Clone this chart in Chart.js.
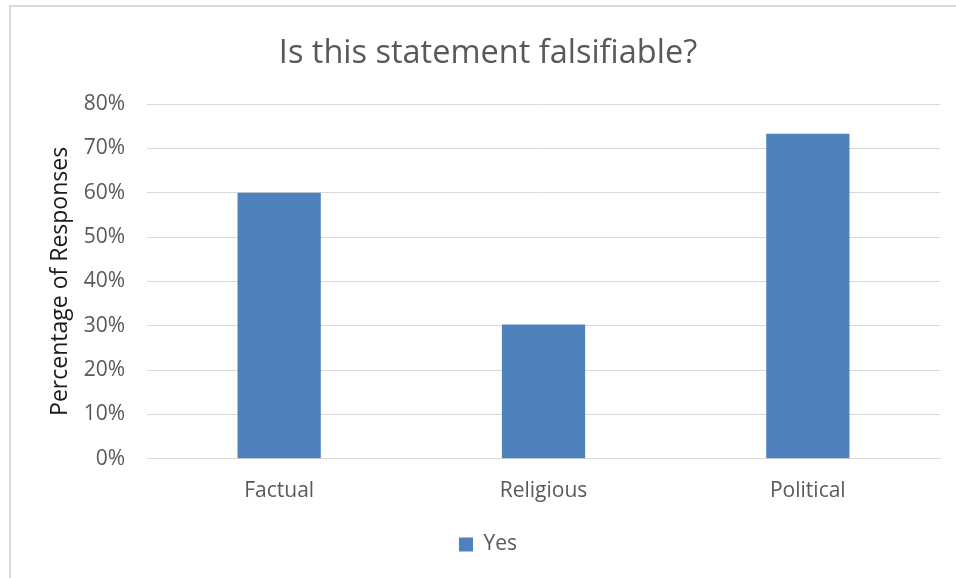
<!DOCTYPE html>
<html>
<head>
<meta charset="utf-8">
<script src="https://cdn.jsdelivr.net/npm/chart.js@4"></script>
<style>
  html, body { margin: 0; padding: 0; background: #fff; overflow: hidden; }
  #wrap { position: relative; width: 956px; height: 578px; }
  #frame { position: absolute; left: 9px; top: 5px; width: 1000px; height: 620px; border: 2px solid #d9d9d9; box-sizing: border-box; }
  #chart { position: absolute; left: 0; top: 0; }
</style>
</head>
<body>
<div id="wrap">
  <div id="frame"></div>
  <canvas id="chart" width="956" height="578"></canvas>
</div>
<script>
const categories = ["Factual", "Religious", "Political"];
const yesValues = [60, 30.3, 73.3];
const seriesName = "Yes";
const chartTitle = "Is this statement falsifiable?";
const yAxisTitle = "Percentage of Responses";

const FONT = "'Open Sans', sans-serif";

new Chart(document.getElementById("chart"), {
  type: "bar",
  data: {
    labels: categories,
    datasets: [
      {
        label: seriesName,
        data: yesValues,
        backgroundColor: "#4f81bd",
        borderWidth: 0,
        categoryPercentage: 1,
        barPercentage: 0.315
      }
    ]
  },
  options: {
    responsive: false,
    devicePixelRatio: 1,
    animation: false,
    layout: {
      padding: { left: 36, right: 16, top: 6, bottom: 13 }
    },
    plugins: {
      title: {
        display: true,
        text: chartTitle,
        color: "#595959",
        font: { family: FONT, size: 32.5, weight: "normal" },
        padding: { top: 28, bottom: 31 }
      },
      legend: {
        position: "bottom",
        labels: {
          color: "#595959",
          font: { family: FONT, size: 21 },
          boxWidth: 14,
          boxHeight: 14,
          padding: 6
        }
      },
      tooltip: { enabled: false }
    },
    scales: {
      x: {
        afterFit: scale => { scale.height += 4; },
        grid: { display: false, drawTicks: false },
        border: { display: true, color: "#d9d9d9", width: 1 },
        ticks: {
          color: "#595959",
          font: { family: FONT, size: 21 },
          padding: 20
        }
      },
      y: {
        min: 0,
        max: 80,
        afterFit: scale => { scale.width = 111; },
        grid: { color: "#d9d9d9", lineWidth: 1, drawTicks: false },
        border: { display: false },
        ticks: {
          stepSize: 10,
          color: "#595959",
          font: { family: FONT, size: 21 },
          padding: 22,
          callback: value => value + "%"
        },
        title: {
          display: true,
          text: yAxisTitle,
          color: "#1a1a1a",
          font: { family: FONT, size: 23 },
          padding: { top: 11, bottom: 0 }
        }
      }
    }
  }
});
</script>
</body>
</html>
